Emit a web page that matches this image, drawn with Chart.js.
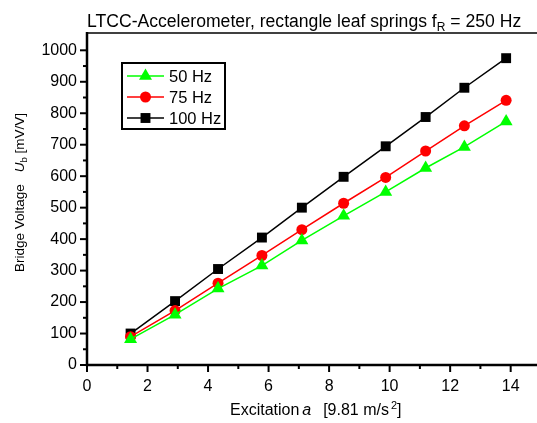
<!DOCTYPE html>
<html>
<head>
<meta charset="utf-8">
<script src="https://cdn.jsdelivr.net/npm/chart.js@4/dist/chart.umd.min.js"></script>
<style>
  html, body { margin: 0; padding: 0; background: #fff; }
  #wrap { width: 537px; height: 423px; }
</style>
</head>
<body>
<div id="wrap"><canvas id="chart" width="537" height="423"></canvas></div>
<script>
// excitation values (x 9.81 m/s^2)
const excitation = [1.44, 2.91, 4.33, 5.78, 7.1, 8.48, 9.87, 11.19, 12.47, 13.85];
const u50 = [82, 160, 243, 316, 396, 474, 550, 626, 693, 774];
const u75 = [90, 173, 260, 348, 430, 514, 596, 680, 760, 841];
const u100 = [100, 203, 305, 405, 500, 598, 695, 788, 881, 975];
const seriesNames = ["50 Hz", "75 Hz", "100 Hz"];
const xTicks = [0, 2, 4, 6, 8, 10, 12, 14];
const yTicks = [0, 100, 200, 300, 400, 500, 600, 700, 800, 900, 1000];

const FONT = "'Liberation Sans', Arial, sans-serif";

function toPoints(ys) {
    return ys.map((y, i) => ({ x: excitation[i], y: y }));
}

const datasets = [
    { label: seriesNames[0], data: toPoints(u50), borderColor: "#00ff00", backgroundColor: "#00ff00",
      pointStyle: "triangle", pointRadius: 7.5 },
    { label: seriesNames[1], data: toPoints(u75), borderColor: "#ff0000", backgroundColor: "#ff0000",
      pointStyle: "circle", pointRadius: 5.5 },
    { label: seriesNames[2], data: toPoints(u100), borderColor: "#000000", backgroundColor: "#000000",
      pointStyle: "rect", pointRadius: 7 }
];
datasets.forEach(d => {
    d.showLine = true;
    d.borderWidth = 1.5;
    d.pointBorderWidth = 0;
    d.tension = 0;
    d.clip = false;
});

// ticks, frame, legend and axis titles
const decor = {
    id: "decor",
    afterDraw(chart) {
        const ctx = chart.ctx;
        const xs = chart.scales.x, ys = chart.scales.y;
        const a = chart.chartArea;
        ctx.save();
        ctx.strokeStyle = "#000";

        // frame top
        ctx.lineWidth = 1.5;
        ctx.beginPath();
        ctx.moveTo(a.left, a.top);
        ctx.lineTo(a.right, a.top);
        ctx.stroke();

        // axes
        ctx.lineWidth = 2.5;
        ctx.beginPath();
        ctx.moveTo(a.left, a.top - 1);
        ctx.lineTo(a.left, a.bottom);
        ctx.lineTo(a.right, a.bottom);
        ctx.stroke();

        // x ticks (major at even, minor at odd)
        ctx.lineWidth = 2;
        for (let v = 0; v <= 14; v++) {
            const px = xs.getPixelForValue(v);
            const len = v % 2 === 0 ? 7 : 4;
            ctx.beginPath();
            ctx.moveTo(px, a.bottom);
            ctx.lineTo(px, a.bottom + len);
            ctx.stroke();
        }
        // y ticks (major at 100s, minor at 50s)
        for (let v = 0; v <= 1000; v += 50) {
            const py = ys.getPixelForValue(v);
            const len = v % 100 === 0 ? 7 : 4;
            ctx.beginPath();
            ctx.moveTo(a.left, py);
            ctx.lineTo(a.left - len, py);
            ctx.stroke();
        }

        // legend
        const lx = 122, ly = 63, lw = 103, lh = 66;
        ctx.lineWidth = 2;
        ctx.strokeRect(lx, ly, lw, lh);
        ctx.font = "16.5px " + FONT;
        ctx.textBaseline = "middle";
        ctx.textAlign = "left";
        chart.data.datasets.forEach((d, i) => {
            const y = ly + 13 + i * 21;
            ctx.strokeStyle = d.borderColor;
            ctx.lineWidth = 1.5;
            ctx.beginPath();
            ctx.moveTo(lx + 5, y);
            ctx.lineTo(lx + 42, y);
            ctx.stroke();
            ctx.fillStyle = d.backgroundColor;
            Chart.helpers.drawPoint(ctx, { pointStyle: d.pointStyle, radius: d.pointRadius, borderWidth: 0 }, lx + 23.5, y);
            ctx.fillStyle = "#000";
            ctx.fillText(d.label, lx + 47, y + 1);
        });

        // title with subscript
        ctx.fillStyle = "#000";
        ctx.textBaseline = "alphabetic";
        let tx = 87, ty = 27;
        ctx.font = "17.6px " + FONT;
        const t1 = "LTCC-Accelerometer, rectangle leaf springs f";
        ctx.fillText(t1, tx, ty);
        tx += ctx.measureText(t1).width;
        ctx.font = "12px " + FONT;
        ctx.fillText("R", tx, ty + 4);
        tx += ctx.measureText("R").width;
        ctx.font = "17.6px " + FONT;
        ctx.fillText(" = 250 Hz", tx, ty);

        // x axis title
        let bx = 230, by = 415;
        ctx.font = "16px " + FONT;
        ctx.fillText("Excitation", bx, by);
        bx += ctx.measureText("Excitation").width + 3;
        ctx.font = "italic 16px " + FONT;
        ctx.fillText("a", bx, by);
        bx += ctx.measureText("a").width + 3;
        ctx.font = "16px " + FONT;
        ctx.fillText("  [9.81 m/s", bx, by);
        bx += ctx.measureText("  [9.81 m/s").width + 2;
        ctx.font = "11px " + FONT;
        ctx.fillText("2", bx, by - 6);
        bx += ctx.measureText("2").width;
        ctx.font = "16px " + FONT;
        ctx.fillText("]", bx, by);

        // y axis title, rotated
        ctx.translate(24, 272);
        ctx.rotate(-Math.PI / 2);
        let rx = 0;
        ctx.font = "13.5px " + FONT;
        ctx.fillText("Bridge Voltage", rx, 0);
        rx += ctx.measureText("Bridge Voltage").width + 12;
        ctx.font = "italic 13.5px " + FONT;
        ctx.fillText("U", rx, 0);
        rx += ctx.measureText("U").width;
        ctx.font = "9.5px " + FONT;
        ctx.fillText("b", rx, 3);
        rx += ctx.measureText("b").width;
        ctx.font = "13.5px " + FONT;
        ctx.fillText(" [mV/V]", rx, 0);

        ctx.restore();
    }
};

new Chart(document.getElementById("chart"), {
    type: "scatter",
    data: { datasets: datasets },
    options: {
        responsive: false,
        animation: false,
        layout: { autoPadding: false, padding: { top: 33, right: 0, left: 0, bottom: 0 } },
        plugins: { legend: { display: false }, tooltip: { enabled: false } },
        scales: {
            x: {
                type: "linear",
                min: 0,
                max: 14.87,
                afterFit(s) { s.height = 58; s.paddingRight = 0; s.paddingLeft = 0; },
                afterBuildTicks(s) { s.ticks = xTicks.map(v => ({ value: v })); },
                ticks: { color: "#000", font: { size: 16, family: FONT }, padding: 12, maxRotation: 0,
                         callback: v => String(v) },
                grid: { display: false, drawTicks: false },
                border: { display: false }
            },
            y: {
                type: "linear",
                min: 0,
                max: 1055,
                afterFit(s) { s.width = 87; s.paddingTop = 0; s.paddingBottom = 0; },
                afterBuildTicks(s) { s.ticks = yTicks.map(v => ({ value: v })); },
                ticks: { color: "#000", font: { size: 16, family: FONT }, padding: 10,
                         callback: v => String(v) },
                grid: { display: false, drawTicks: false },
                border: { display: false }
            }
        }
    },
    plugins: [decor]
});
</script>
</body>
</html>
